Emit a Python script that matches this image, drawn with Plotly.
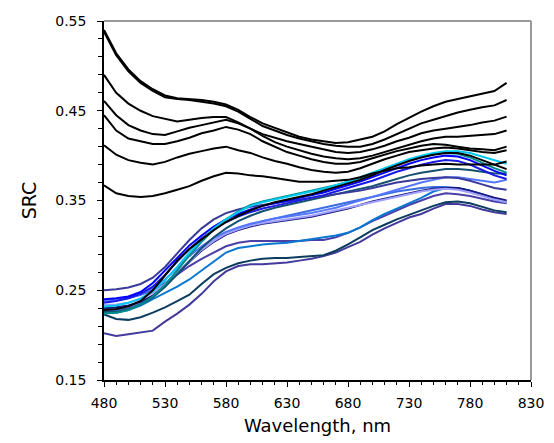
import plotly.graph_objects as go

wavelength = list(range(480, 811, 10))

# Upper black group
k1 = [.540, .514, .496, .483, .474, .467, .464, .463, .462, .460, .457, .451, .443, .436, .431, .426, .421, .418, .416, .414, .415, .418, .421, .427, .435, .442, .449, .455, .460, .463, .466, .469, .472, .481]
k2 = [.538, .512, .494, .481, .472, .465, .463, .462, .460, .458, .455, .449, .441, .433, .428, .423, .419, .416, .413, .411, .410, .410, .413, .418, .424, .430, .436, .440, .444, .448, .451, .454, .456, .462]
k3 = [.490, .470, .458, .450, .444, .441, .438, .440, .442, .443, .443, .437, .430, .424, .420, .416, .413, .410, .407, .404, .403, .404, .407, .411, .416, .420, .425, .428, .430, .432, .434, .437, .439, .4435]
k4 = [.461, .445, .434, .428, .424, .423, .427, .431, .434, .437, .440, .436, .430, .422, .415, .410, .406, .402, .399, .397, .396, .397, .400, .404, .408, .412, .416, .419, .421, .421, .422, .423, .424, .428]
k5 = [.445, .428, .419, .416, .413, .413, .416, .420, .425, .428, .432, .429, .424, .416, .410, .404, .400, .396, .393, .391, .391, .393, .397, .401, .405, .408, .411, .413, .412, .410, .408, .407, .406, .410]
k6 = [.4115, .401, .395, .392, .390, .393, .398, .402, .405, .408, .410, .406, .403, .398, .394, .391, .387, .384, .382, .381, .382, .386, .391, .396, .400, .404, .406, .408, .409, .408, .406, .404, .403, .406]
k7 = [.367, .358, .355, .354, .355, .358, .362, .366, .372, .377, .381, .380, .378, .377, .375, .373, .371, .371, .371, .372, .373, .376, .380, .383, .386, .387, .389, .390, .391, .390, .390, .390, .390, .3934]

# Lower blue group
cyan = [.232, .233, .236, .241, .249, .261, .276, .292, .306, .319, .329, .337, .344, .348, .351, .354, .357, .360, .363, .367, .371, .376, .381, .386, .391, .396, .400, .403, .405, .405, .403, .399, .395, .391]
teal = [.224, .225, .228, .234, .243, .256, .272, .289, .304, .318, .329, .338, .345, .349, .352, .355, .358, .361, .364, .367, .371, .375, .380, .385, .390, .395, .399, .402, .403, .402, .398, .392, .386, .381]
blk = [.228, .229, .232, .238, .250, .266, .283, .296, .307, .317, .326, .333, .339, .344, .348, .351, .354, .357, .361, .365, .369, .373, .378, .384, .389, .394, .398, .401, .403, .403, .400, .395, .390, .385]
blue = [.240, .241, .243, .248, .258, .272, .287, .300, .311, .321, .329, .335, .340, .344, .347, .350, .353, .356, .359, .363, .367, .371, .376, .381, .386, .391, .395, .398, .400, .399, .395, .389, .383, .378]
medblue = [.236, .238, .241, .246, .254, .267, .282, .296, .308, .318, .326, .332, .337, .341, .344, .347, .350, .353, .356, .360, .364, .368, .372, .377, .382, .386, .390, .393, .395, .394, .390, .384, .378, .374]
dsb = [.250, .251, .253, .257, .264, .276, .291, .306, .319, .329, .336, .340, .343, .345, .347, .349, .351, .353, .355, .357, .359, .361, .364, .367, .370, .372, .374, .375, .376, .375, .372, .368, .364, .362]
darkteal = [.226, .226, .229, .234, .242, .254, .268, .283, .297, .309, .319, .327, .333, .338, .342, .345, .348, .351, .354, .357, .360, .363, .366, .370, .374, .378, .381, .383, .385, .385, .384, .382, .380, .380]
cornflower = [.238, .239, .241, .245, .252, .262, .275, .288, .299, .308, .315, .320, .324, .327, .330, .332, .334, .336, .339, .342, .346, .350, .354, .358, .362, .366, .370, .373, .376, .376, .374, .372, .370, .373]
lavender = [.2336, .234, .236, .240, .247, .257, .270, .283, .295, .305, .313, .318, .322, .325, .327, .329, .331, .333, .336, .339, .342, .345, .348, .351, .354, .357, .360, .362, .363, .362, .359, .355, .351, .348]
navy = [.230, .231, .233, .237, .244, .255, .268, .282, .294, .304, .312, .317, .321, .324, .326, .328, .330, .332, .335, .338, .341, .345, .349, .352, .355, .358, .361, .363, .364, .364, .361, .357, .353, .350]
royal = [.227, .228, .230, .235, .243, .254, .268, .282, .295, .305, .313, .319, .323, .327, .330, .333, .336, .339, .342, .345, .348, .351, .354, .357, .360, .362, .364, .365, .365, .364, .361, .357, .352, .349]
dodger = [.225, .225, .228, .233, .240, .247, .254, .262, .272, .283, .292, .297, .299, .301, .302, .303, .305, .307, .309, .311, .314, .320, .328, .335, .341, .347, .353, .360, .364, .364, .361, .356, .351, .348]
slate_c = [.238, .240, .242, .245, .250, .258, .267, .277, .285, .292, .299, .303, .305, .305, .305, .305, .305, .306, .306, .309, .314, .320, .327, .333, .339, .345, .350, .355, .358, .357, .355, .352, .349, .347]
darknavy = [.223, .218, .217, .220, .225, .231, .238, .245, .257, .268, .275, .280, .283, .285, .286, .286, .287, .288, .289, .294, .301, .309, .317, .323, .329, .334, .339, .344, .348, .349, .347, .343, .339, .337]
slate_d = [.202, .199, .201, .203, .205, .215, .224, .234, .246, .260, .271, .277, .279, .279, .280, .281, .283, .285, .288, .292, .298, .304, .312, .319, .325, .331, .335, .341, .346, .346, .344, .340, .337, .335]

series = [
    (slate_d, "#433a9c"), (darknavy, "#0c3d60"), (slate_c, "#4a40a8"), (dodger, "#0a78d2"),
    (royal, "#3a6ee0"), (navy, "#1a1a80"), (lavender, "#a0a0ff"), (cornflower, "#5577ff"),
    (darkteal, "#145070"), (dsb, "#3a3a9a"), (medblue, "#1a1ae6"), (blue, "#0000ff"),
    (teal, "#008b8b"), (cyan, "#00c8f0"), (blk, "#000000"),
    (k7, "#000000"), (k6, "#000000"), (k5, "#000000"), (k4, "#000000"),
    (k3, "#000000"), (k2, "#000000"), (k1, "#000000"),
]

fig = go.Figure()
for vals, col in series:
    fig.add_trace(go.Scatter(x=wavelength, y=vals, mode="lines",
                             line=dict(color=col, width=2), showlegend=False))

font_family = "DejaVu Sans, Arial, sans-serif"
fig.update_layout(
    width=546, height=435,
    margin=dict(l=96, r=23, t=5, b=63),
    paper_bgcolor="white", plot_bgcolor="white",
    font=dict(family=font_family, color="black"),
    showlegend=False,
    xaxis=dict(
        range=[480, 830], tickmode="linear", tick0=480, dtick=50,
        showgrid=False, zeroline=False, showline=True, linecolor="black", linewidth=1.5,
        ticks="outside", ticklen=5, tickcolor="black", tickwidth=1,
        minor=dict(ticks="outside", dtick=10, ticklen=3, tickcolor="black", showgrid=False),
        tickfont=dict(size=14),
        ticklabelstandoff=4,
        ticklabeloverflow="allow",
        title=dict(text="Wavelength, nm", font=dict(size=18), standoff=10),
    ),
    yaxis=dict(
        range=[0.15, 0.55], tickmode="linear", tick0=0.15, dtick=0.1, tickformat=".2f",
        showgrid=False, zeroline=False, showline=True, linecolor="black", linewidth=1.5,
        ticks="outside", ticklen=5, tickcolor="black", tickwidth=1,
        minor=dict(ticks="outside", dtick=0.02, tick0=0.15, ticklen=4, tickcolor="black", showgrid=False),
        tickfont=dict(size=14),
        ticklabelstandoff=8,
        ticklabeloverflow="allow",
        title=dict(text="SRC", font=dict(size=19), standoff=14),
    ),
    shapes=[
        dict(type="line", xref="paper", yref="paper", x0=0, x1=1, y0=1, y1=1,
             line=dict(color="#999999", width=2)),
        dict(type="line", xref="paper", yref="paper", x0=1, x1=1, y0=0, y1=1,
             line=dict(color="#999999", width=2)),
    ],
)

fig.write_html("out.html")
